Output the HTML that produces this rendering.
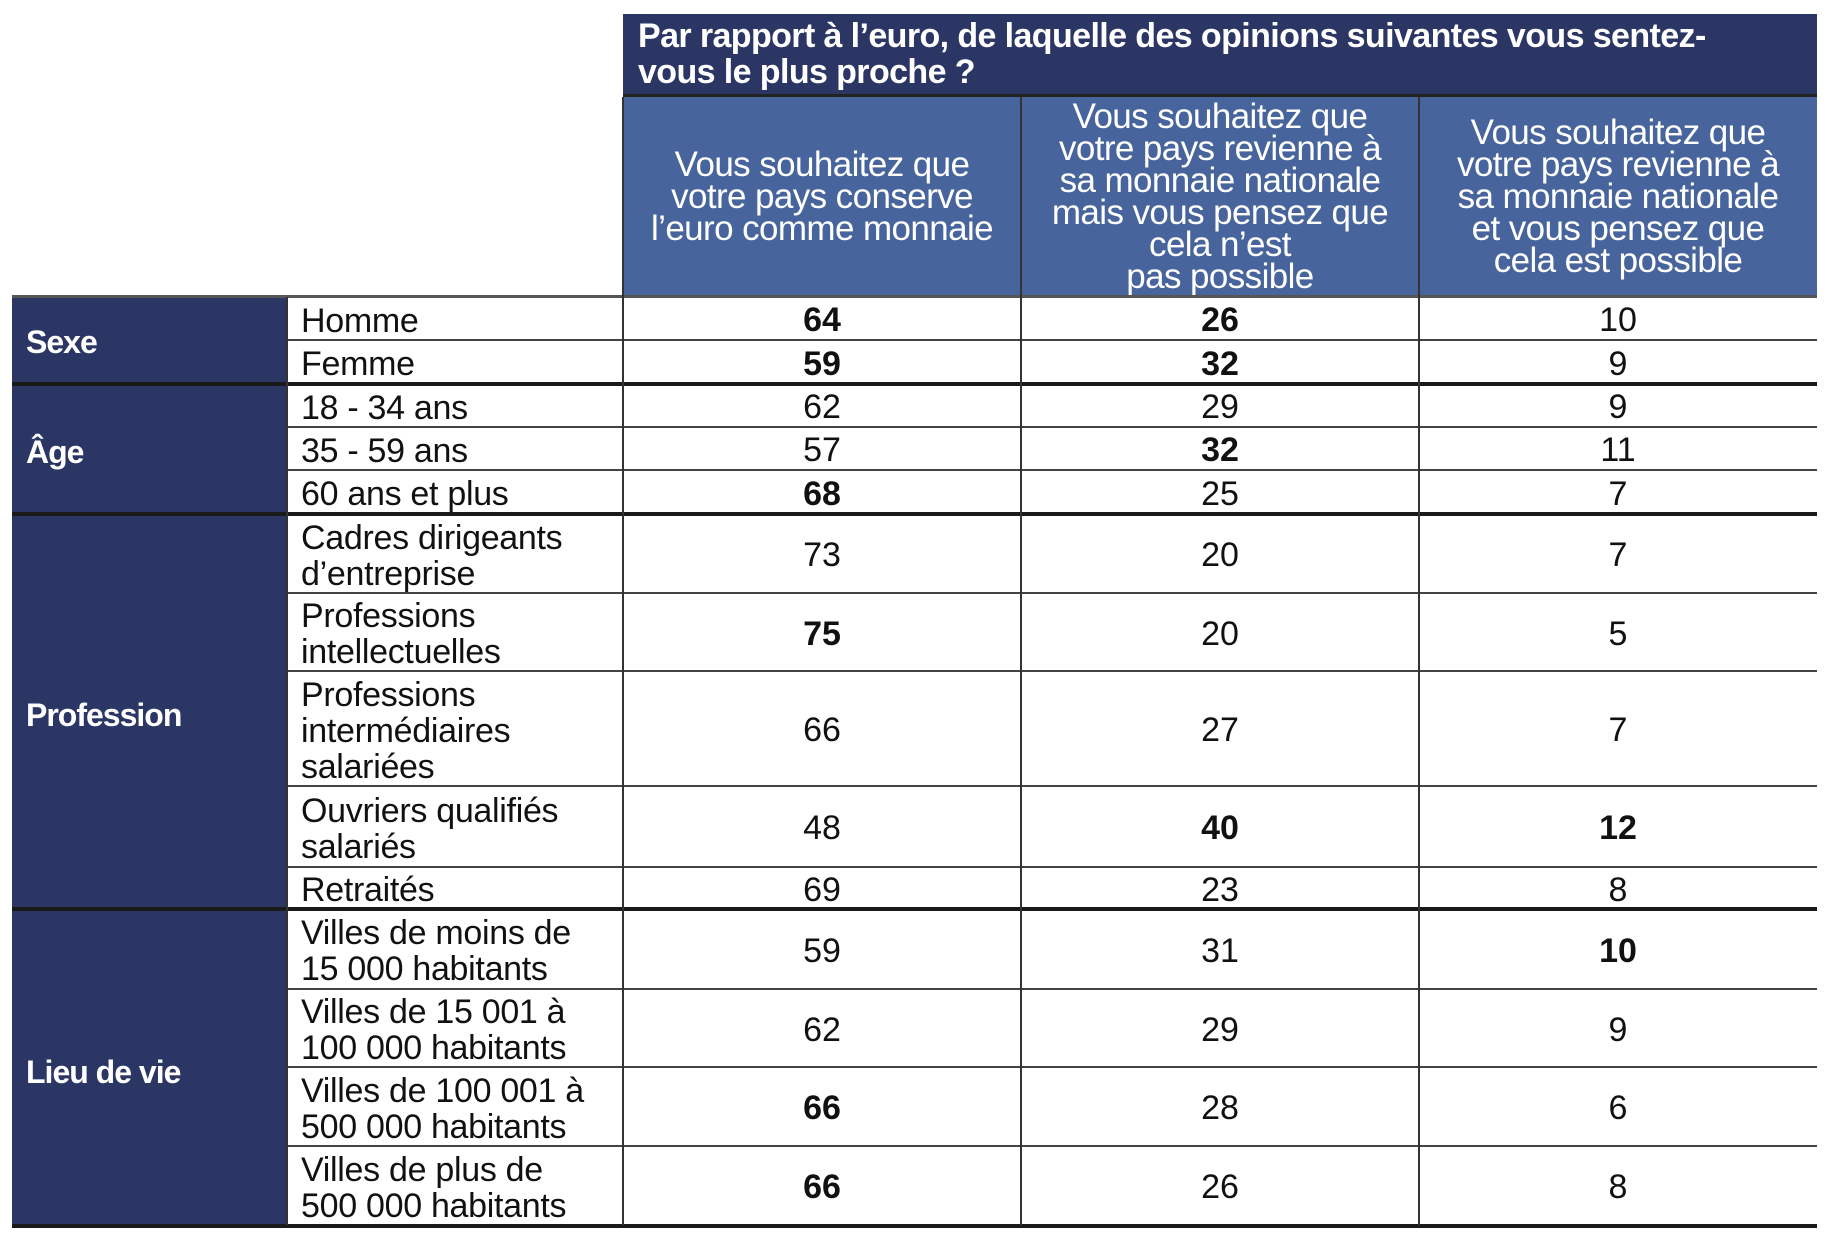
<!DOCTYPE html>
<html><head><meta charset="utf-8"><style>
body{margin:0;background:#fff;width:1834px;height:1240px;position:relative;overflow:hidden;font-family:"Liberation Sans",sans-serif;}
.a{position:absolute;box-sizing:border-box}
.navy{background:#2b3665}
.blue{background:#47649d}
.hl{position:absolute;left:287px;width:1530px;height:2px;background:#444}
.hk{position:absolute;left:12px;width:1805px;height:4px;background:#1a1a1a}
.vl{position:absolute;width:2px;background:#333}
.lab{position:absolute;left:301px;width:322px;font-size:34px;line-height:36px;color:#111;display:flex;align-items:center;white-space:nowrap;letter-spacing:-0.3px}
.num{position:absolute;font-size:34px;color:#111;display:flex;align-items:center;justify-content:center;width:396px}
.b{font-weight:bold}
.grp{position:absolute;left:26px;color:#fff;font-weight:bold;font-size:32px;letter-spacing:-1px}
.hd{position:absolute;color:#fff;font-size:35px;line-height:32px;text-align:center;display:flex;align-items:center;justify-content:center;letter-spacing:-0.6px;white-space:nowrap}
</style></head><body>
<div class="a navy" style="left:623px;top:14px;width:1194px;height:80px"></div>
<div class="a" style="left:638px;top:18px;width:1175px;color:#fff;font-weight:bold;font-size:34px;line-height:36px;letter-spacing:-0.6px;white-space:nowrap">Par rapport à l’euro, de laquelle des opinions suivantes vous sentez-<br>vous le plus proche ?</div>
<div class="a" style="left:623px;top:94px;width:1194px;height:3px;background:#222"></div>
<div class="a blue" style="left:623px;top:97px;width:1194px;height:200px"></div>
<div class="hd" style="left:623px;top:97px;width:398px;height:200px">Vous souhaitez que<br>votre pays conserve<br>l’euro comme monnaie</div>
<div class="hd" style="left:1021px;top:101px;width:398px;height:192px">Vous souhaitez que<br>votre pays revienne à<br>sa monnaie nationale<br>mais vous pensez que<br>cela n’est<br>pas possible</div>
<div class="hd" style="left:1419px;top:97px;width:398px;height:200px">Vous souhaitez que<br>votre pays revienne à<br>sa monnaie nationale<br>et vous pensez que<br>cela est possible</div>

<div class="a navy" style="left:12px;top:297px;width:275px;height:929px"></div>
<div class="grp" style="top:324px">Sexe</div>
<div class="grp" style="top:434px">Âge</div>
<div class="grp" style="top:697px">Profession</div>
<div class="grp" style="top:1054px">Lieu de vie</div>

<div class="a" style="left:12px;top:295px;width:1805px;height:3px;background:#555"></div>
<div class="hl" style="top:339px"></div>
<div class="hk" style="top:382px"></div>
<div class="hl" style="top:426px"></div>
<div class="hl" style="top:469px"></div>
<div class="hk" style="top:512px"></div>
<div class="hl" style="top:592px"></div>
<div class="hl" style="top:670px"></div>
<div class="hl" style="top:785px"></div>
<div class="hl" style="top:866px"></div>
<div class="hk" style="top:907px"></div>
<div class="hl" style="top:988px"></div>
<div class="hl" style="top:1066px"></div>
<div class="hl" style="top:1145px"></div>
<div class="hk" style="top:1224px"></div>
<div class="vl" style="left:622px;top:97px;height:1128px"></div>
<div class="vl" style="left:1020px;top:97px;height:1128px"></div>
<div class="vl" style="left:1418px;top:97px;height:1128px"></div>
<div class="vl" style="left:286px;top:297px;height:928px"></div>

<div class="lab" style="top:299px;height:43px">Homme</div>
<div class="lab" style="top:342px;height:44px">Femme</div>
<div class="lab" style="top:386px;height:43px">18 - 34 ans</div>
<div class="lab" style="top:429px;height:43px">35 - 59 ans</div>
<div class="lab" style="top:472px;height:44px">60 ans et plus</div>
<div class="lab" style="top:516px;height:79px">Cadres dirigeants<br>d’entreprise</div>
<div class="lab" style="top:595px;height:78px">Professions<br>intellectuelles</div>
<div class="lab" style="top:673px;height:115px">Professions<br>intermédiaires<br>salariées</div>
<div class="lab" style="top:788px;height:81px">Ouvriers qualifiés<br>salariés</div>
<div class="lab" style="top:869px;height:42px">Retraités</div>
<div class="lab" style="top:911px;height:80px">Villes de moins de<br>15 000 habitants</div>
<div class="lab" style="top:991px;height:78px">Villes de 15 001 à<br>100 000 habitants</div>
<div class="lab" style="top:1069px;height:79px">Villes de 100 001 à<br>500 000 habitants</div>
<div class="lab" style="top:1148px;height:79px">Villes de plus de<br>500 000 habitants</div>

<div class="num b" style="left:624px;top:299px;height:43px">64</div><div class="num b" style="left:1022px;top:299px;height:43px">26</div><div class="num" style="left:1420px;top:299px;height:43px">10</div>
<div class="num b" style="left:624px;top:342px;height:44px">59</div><div class="num b" style="left:1022px;top:342px;height:44px">32</div><div class="num" style="left:1420px;top:342px;height:44px">9</div>
<div class="num" style="left:624px;top:386px;height:43px">62</div><div class="num" style="left:1022px;top:386px;height:43px">29</div><div class="num" style="left:1420px;top:386px;height:43px">9</div>
<div class="num" style="left:624px;top:429px;height:43px">57</div><div class="num b" style="left:1022px;top:429px;height:43px">32</div><div class="num" style="left:1420px;top:429px;height:43px">11</div>
<div class="num b" style="left:624px;top:472px;height:44px">68</div><div class="num" style="left:1022px;top:472px;height:44px">25</div><div class="num" style="left:1420px;top:472px;height:44px">7</div>
<div class="num" style="left:624px;top:516px;height:79px">73</div><div class="num" style="left:1022px;top:516px;height:79px">20</div><div class="num" style="left:1420px;top:516px;height:79px">7</div>
<div class="num b" style="left:624px;top:595px;height:78px">75</div><div class="num" style="left:1022px;top:595px;height:78px">20</div><div class="num" style="left:1420px;top:595px;height:78px">5</div>
<div class="num" style="left:624px;top:673px;height:115px">66</div><div class="num" style="left:1022px;top:673px;height:115px">27</div><div class="num" style="left:1420px;top:673px;height:115px">7</div>
<div class="num" style="left:624px;top:788px;height:81px">48</div><div class="num b" style="left:1022px;top:788px;height:81px">40</div><div class="num b" style="left:1420px;top:788px;height:81px">12</div>
<div class="num" style="left:624px;top:869px;height:42px">69</div><div class="num" style="left:1022px;top:869px;height:42px">23</div><div class="num" style="left:1420px;top:869px;height:42px">8</div>
<div class="num" style="left:624px;top:911px;height:80px">59</div><div class="num" style="left:1022px;top:911px;height:80px">31</div><div class="num b" style="left:1420px;top:911px;height:80px">10</div>
<div class="num" style="left:624px;top:991px;height:78px">62</div><div class="num" style="left:1022px;top:991px;height:78px">29</div><div class="num" style="left:1420px;top:991px;height:78px">9</div>
<div class="num b" style="left:624px;top:1069px;height:79px">66</div><div class="num" style="left:1022px;top:1069px;height:79px">28</div><div class="num" style="left:1420px;top:1069px;height:79px">6</div>
<div class="num b" style="left:624px;top:1148px;height:79px">66</div><div class="num" style="left:1022px;top:1148px;height:79px">26</div><div class="num" style="left:1420px;top:1148px;height:79px">8</div>
</body></html>
